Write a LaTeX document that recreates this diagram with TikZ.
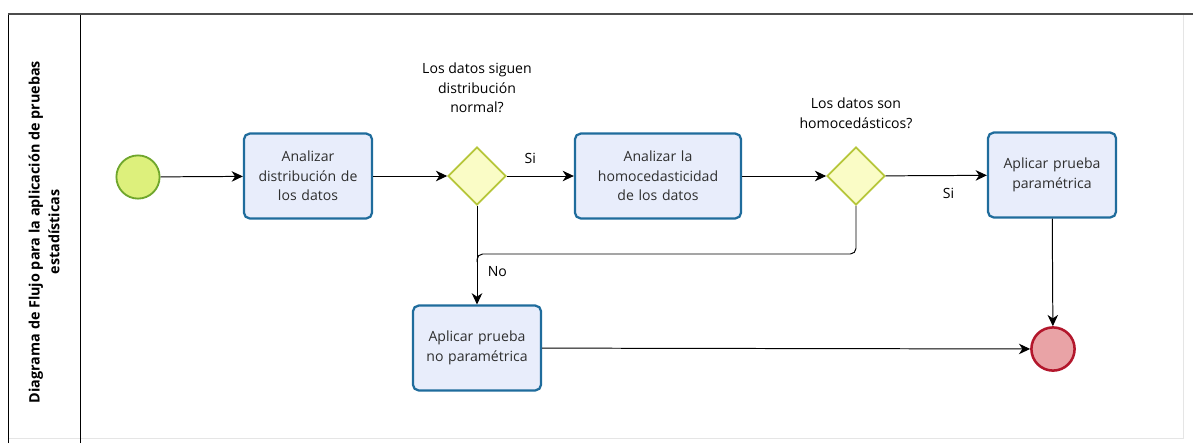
\documentclass[tikz,border=0pt]{standalone}
\usepackage{fontspec}
\setmainfont{Open Sans}
\usepackage{tikz}
\usetikzlibrary{shapes}
\usetikzlibrary{arrows.meta}
\usetikzlibrary{positioning}

\definecolor{taskfill}{HTML}{E8EDFB}
\definecolor{taskline}{HTML}{1F6C9C}
\definecolor{startfill}{HTML}{DDF07C}
\definecolor{startline}{HTML}{6FA62C}
\definecolor{gatefill}{HTML}{FAFCC6}
\definecolor{gateline}{HTML}{B6C63A}
\definecolor{endfill}{HTML}{E9A3A6}
\definecolor{endline}{HTML}{B3172C}
\definecolor{txtgray}{HTML}{2E2E2E}

\begin{document}
\begin{tikzpicture}[->,>={Stealth[length=8pt,width=7.5pt,inset=2.5pt]},x=0.025cm,y=-0.025cm,
                    font=\fontsize{10}{14}\selectfont,
                    task node/.style={rectangle,rounded corners=4pt,draw=taskline,line width=1.6pt,
                      fill=taskfill,text=txtgray,align=center,minimum width=3.2cm,minimum height=2.12cm,
                      text width=3.1cm,inner sep=1pt},
                    gate node/.style={diamond,draw=gateline,line width=1.2pt,fill=gatefill,
                      minimum size=1.45cm,inner sep=0pt},
                    start node/.style={circle,draw=startline,line width=1.3pt,fill=startfill,minimum size=1.08cm},
                    end node/.style={circle,draw=endline,line width=1.8pt,fill=endfill,minimum size=1.08cm},
                    flow/.style={line width=0.7pt}]

		\useasboundingbox (0,0) rectangle (1193,443);

		% pool
		\draw[-,line width=0.4pt,black!10] (1183,14) -- (1183,438) -- (8,438);
		\draw[-,line width=0.6pt] (8,443) -- (8,14);
		\draw[-,line width=0.6pt] (80,443) -- (80,14);
		\draw[-,line width=1.3pt,black!70] (8,14) -- (1193,14);
		\node[-,rotate=90,align=center,font=\fontsize{10.2}{14}\selectfont\bfseries] (pool) at (44,232)
			{Diagrama de Flujo para la aplicación de pruebas\\estadísticas};

		% elements
		\node[start node] (start) at (138,177) {};
		\node[task node] (t1) at (308,176) {Analizar\\distribución de\\los datos};
		\node[gate node] (g1) at (477,176) {};
		\node[task node,minimum width=4.15cm,text width=4cm] (t2) at (658,176) {Analizar la\\homocedasticidad\\de los datos};
		\node[gate node] (g2) at (856,176) {};
		\node[task node] (t3) at (1052,175) {Aplicar prueba\\paramétrica};
		\node[task node] (t4) at (477,348) {Aplicar prueba\\no paramétrica};
		\node[end node] (end) at (1053,349) {};

		\node[align=center] (q1) at (477,88) {Los datos siguen\\distribución\\normal?};
		\node[align=center] (q2) at (856,113) {Los datos son\\homocedásticos?};

		\coordinate (mrg) at (477,254);

		% flows
		\path[every node/.style={font=\fontsize{10}{14}\selectfont}]
		(start) edge[flow] (t1)
		(t1) edge[flow] (g1)
		(g1) edge[flow] node[pos=0.35,above=5pt] {Si} (t2)
		(t2) edge[flow] (g2)
		(g2) edge[flow] node[pos=0.62,below=5pt] {Si} (t3)
		(g1) edge[flow] node[pos=0.67,right=4pt] {No} (t4)
		(t4) edge[flow] (end)
		(t3) edge[flow] (end);
		\draw[flow,-,rounded corners=4pt] (g2.south) |- (mrg) -- ++(0,8);
	\end{tikzpicture}
\end{document}
